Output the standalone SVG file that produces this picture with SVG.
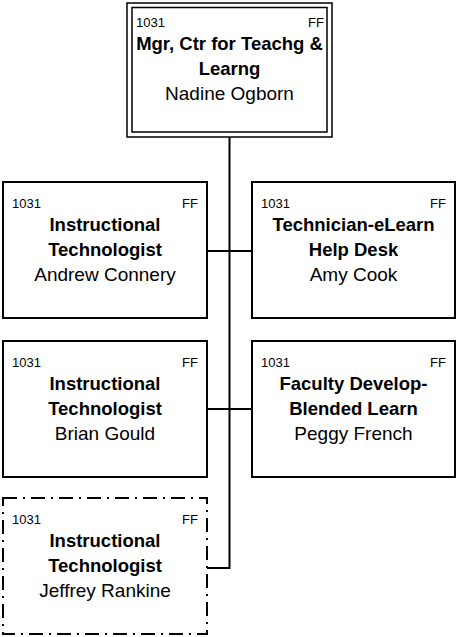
<svg xmlns="http://www.w3.org/2000/svg" width="457" height="637" viewBox="0 0 457 637">
<style>
.box{fill:#fff;stroke:#000;stroke-width:2}
.dbl{fill:none;stroke:#000;stroke-width:1.5}
.dash{fill:#fff;stroke:#000;stroke-width:2;stroke-dasharray:14 6 2 6}
.conn{fill:none;stroke:#000;stroke-width:2}
text{font-family:"Liberation Sans",Arial,sans-serif;fill:#000}
.code{font-size:13px}
.ttl{font-size:18.5px;font-weight:bold;text-anchor:middle}
.nm{font-size:19px;text-anchor:middle}
.r{text-anchor:end}
</style>
<g id="connectors">
<path class="conn" d="M229.5 137V568H207M207 251H252M207 409H252"/>
</g>
<g id="node-mgr">
<rect x="127" y="3" width="205" height="134" fill="#fff" class="dbl"/>
<rect x="132" y="7.5" width="195" height="124.5" class="dbl"/>
<text class="code" x="136" y="27">1031</text>
<text class="code r" x="324" y="27">FF</text>
<text class="ttl" x="229.5" y="50">Mgr, Ctr for Teachg &amp;</text>
<text class="ttl" x="229.5" y="75">Learng</text>
<text class="nm" x="229.5" y="100">Nadine Ogborn</text>
</g>
<g id="node-connery">
<rect class="box" x="3" y="182" width="204" height="136"/>
<text class="code" x="12" y="208">1031</text>
<text class="code r" x="198" y="208">FF</text>
<text class="ttl" x="105" y="231">Instructional</text>
<text class="ttl" x="105" y="256">Technologist</text>
<text class="nm" x="105" y="281">Andrew Connery</text>
</g>
<g id="node-cook">
<rect class="box" x="252" y="182" width="203" height="136"/>
<text class="code" x="261" y="208">1031</text>
<text class="code r" x="446" y="208">FF</text>
<text class="ttl" x="353.5" y="231">Technician-eLearn</text>
<text class="ttl" x="353.5" y="256">Help Desk</text>
<text class="nm" x="353.5" y="281">Amy Cook</text>
</g>
<g id="node-gould">
<rect class="box" x="3" y="341" width="204" height="136"/>
<text class="code" x="12" y="367">1031</text>
<text class="code r" x="198" y="367">FF</text>
<text class="ttl" x="105" y="390">Instructional</text>
<text class="ttl" x="105" y="415">Technologist</text>
<text class="nm" x="105" y="440">Brian Gould</text>
</g>
<g id="node-french">
<rect class="box" x="252" y="341" width="203" height="136"/>
<text class="code" x="261" y="367">1031</text>
<text class="code r" x="446" y="367">FF</text>
<text class="ttl" x="353.5" y="390">Faculty Develop-</text>
<text class="ttl" x="353.5" y="415">Blended Learn</text>
<text class="nm" x="353.5" y="440">Peggy French</text>
</g>
<g id="node-rankine">
<rect class="dash" x="3" y="498" width="204" height="136"/>
<text class="code" x="12" y="524">1031</text>
<text class="code r" x="198" y="524">FF</text>
<text class="ttl" x="105" y="547">Instructional</text>
<text class="ttl" x="105" y="572">Technologist</text>
<text class="nm" x="105" y="597">Jeffrey Rankine</text>
</g>
</svg>
